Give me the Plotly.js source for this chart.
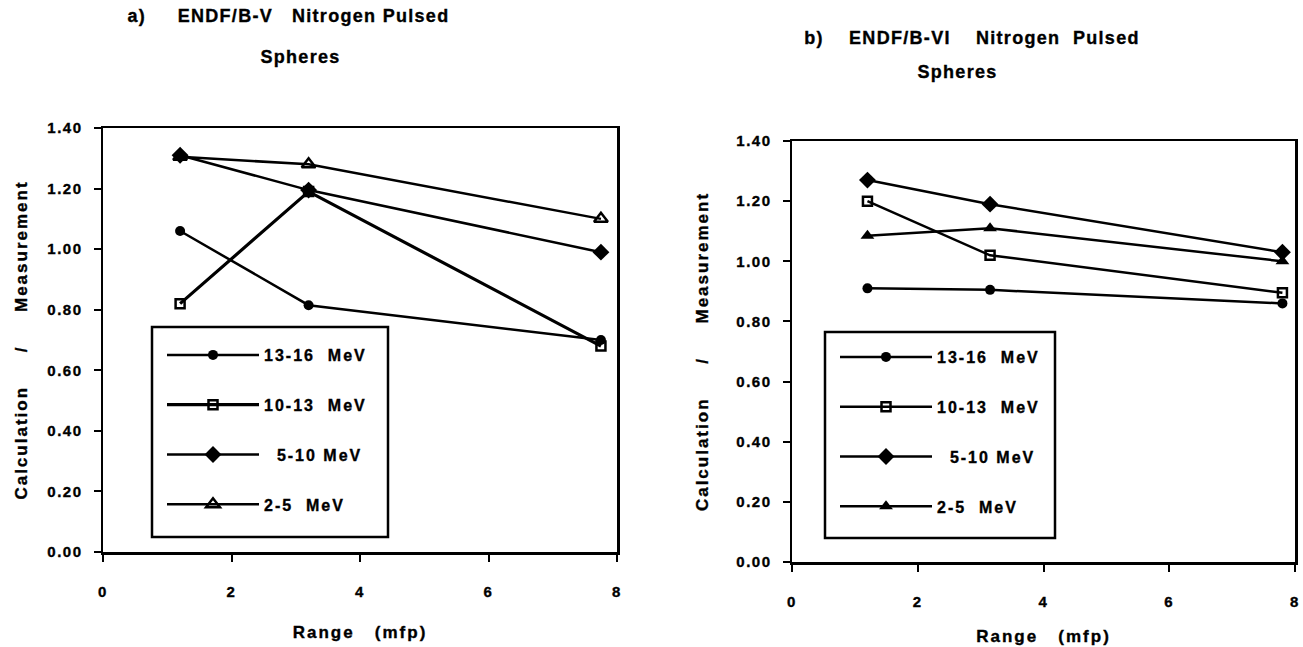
<!DOCTYPE html>
<html>
<head>
<meta charset="utf-8">
<script src="https://cdn.plot.ly/plotly-3.0.1.min.js"></script>
<style>
html,body{margin:0;padding:0;background:#fff;}
#chart{width:1303px;height:647px;}
text{letter-spacing:2px;}
#chart text{stroke:#000;stroke-width:0.35px;}
#chart .xtick text,#chart .ytick text,#chart .x2tick text,#chart .y2tick text{letter-spacing:1.5px;}
#chart .annotation-text{letter-spacing:1.3px;}
</style>
</head>
<body>
<div id="chart"></div>
<script>
// ---- data ----
var seriesNames = ["13-16\u00A0\u00A0MeV", "10-13\u00A0\u00A0MeV", "\u00A0\u00A05-10\u00A0MeV", "2-5\u00A0\u00A0MeV"];
var rangeA = [1.2, 3.2, 7.75];
var rangeB = [1.2, 3.15, 7.8];
// Panel a) ENDF/B-V
var a_13_16 = [1.06, 0.815, 0.70];
var a_10_13 = [0.82, 1.19, 0.68];
var a_5_10  = [1.31, 1.195, 0.99];
var a_2_5   = [1.305, 1.28, 1.10];
// Panel b) ENDF/B-VI
var b_13_16 = [0.91, 0.905, 0.86];
var b_10_13 = [1.20, 1.02, 0.895];
var b_5_10  = [1.27, 1.19, 1.03];
var b_2_5   = [1.085, 1.11, 1.00];
var xTicks = [0, 2, 4, 6, 8];
var yTicks = [0, 0.2, 0.4, 0.6, 0.8, 1.0, 1.2, 1.4];

var FONT = "Liberation Sans, Arial, Helvetica, sans-serif";
var W = 1303, H = 647;
function px(x) { return x / W; }
function py(y) { return 1 - y / H; }

var markerA = [
  {symbol: "circle", size: 10, color: "#000"},
  {symbol: "square-open", size: 9, color: "#000", line: {width: 2.5, color: "#000"}},
  {symbol: "diamond", size: 13, color: "#000"},
  {symbol: "triangle-up-open", size: 12, color: "#000", line: {width: 2.5, color: "#000"}}
];
var markerB = [
  {symbol: "circle", size: 10, color: "#000"},
  {symbol: "square-open", size: 9, color: "#000", line: {width: 2.5, color: "#000"}},
  {symbol: "diamond", size: 13, color: "#000"},
  {symbol: "triangle-up", size: 12, color: "#000"}
];
var lineWA = [2.5, 3.2, 2.5, 2.5];
var dataA = [a_13_16, a_10_13, a_5_10, a_2_5];
var dataB = [b_13_16, b_10_13, b_5_10, b_2_5];

var traces = [];
dataA.forEach(function (ys, i) {
  traces.push({x: rangeA, y: ys, xaxis: "x", yaxis: "y", type: "scatter", mode: "lines+markers",
    name: seriesNames[i], legend: "legend", legendgroup: "a" + i,
    line: {color: "#000", width: lineWA[i]}, marker: markerA[i], cliponaxis: false});
});
dataB.forEach(function (ys, i) {
  traces.push({x: rangeB, y: ys, xaxis: "x2", yaxis: "y2", type: "scatter", mode: "lines+markers",
    name: seriesNames[i], legend: "legend2", legendgroup: "b" + i,
    line: {color: "#000", width: 2.5}, marker: markerB[i], cliponaxis: false});
});

var tickFont = {family: FONT, size: 15, color: "#000", weight: "bold"};
var titleFont = {family: FONT, size: 17, color: "#000", weight: "bold"};
function xAxis(domain, anchor, standoff) {
  return {domain: domain, anchor: anchor, range: [0, 8], tickvals: xTicks, ticktext: xTicks.map(String),
    showgrid: false, zeroline: false, showline: true, linewidth: 2.5, linecolor: "#000", mirror: true,
    ticks: "outside", ticklen: 7, tickwidth: 2, tickcolor: "#000", ticklabelstandoff: 17,
    tickfont: tickFont,
    title: {text: "Range\u00A0\u00A0\u00A0(mfp)", standoff: standoff, font: titleFont}};
}
function yAxis(domain, anchor, standoff) {
  return {domain: domain, anchor: anchor, range: [0, 1.4], tickvals: yTicks, ticktext: yTicks.map(function (v) { return v.toFixed(2); }),
    showgrid: false, zeroline: false, showline: true, linewidth: 2.5, linecolor: "#000", mirror: true,
    ticks: "outside", ticklen: 7, tickwidth: 2, tickcolor: "#000", ticklabelstandoff: 8,
    tickfont: tickFont,
    title: {text: "Calculation\u00A0\u00A0\u00A0\u00A0\u00A0/\u00A0\u00A0\u00A0\u00A0\u00A0Measurement", standoff: standoff, font: titleFont}};
}

var legendBase = {
  bgcolor: "rgba(0,0,0,0)", borderwidth: 0, xanchor: "left", yanchor: "top",
  font: {family: FONT, size: 16, color: "#000", weight: "bold"}, tracegroupgap: 26, itemwidth: 92, itemclick: false
};
var legA = Object.assign({}, legendBase, {x: px(162), y: py(338)});
var legB = Object.assign({}, legendBase, {x: px(835), y: py(340)});

function titleAnn(text, cx, cy) {
  return {text: text, xref: "paper", yref: "paper", x: px(cx), y: py(cy), xanchor: "center", yanchor: "middle",
    showarrow: false, font: {family: FONT, size: 18, color: "#000", weight: "bold"}};
}

var layout = {
  width: W, height: H, margin: {l: 0, r: 0, t: 0, b: 0},
  paper_bgcolor: "#fff", plot_bgcolor: "#fff", showlegend: true,
  xaxis: xAxis([px(103), px(617)], "y", 28),
  yaxis: yAxis([py(552), py(128)], "x", 14),
  xaxis2: xAxis([px(792), px(1295)], "y2", 22),
  yaxis2: yAxis([py(562), py(141)], "x2", 22),
  legend: legA, legend2: legB,
  shapes: [
    {type: "rect", xref: "paper", yref: "paper", x0: px(152), x1: px(388), y0: py(537), y1: py(327),
      line: {color: "#000", width: 2.5}, fillcolor: "rgba(0,0,0,0)"},
    {type: "rect", xref: "paper", yref: "paper", x0: px(825), x1: px(1055), y0: py(538), y1: py(332),
      line: {color: "#000", width: 2.5}, fillcolor: "rgba(0,0,0,0)"}
  ],
  annotations: [
    titleAnn("a)\u00A0\u00A0\u00A0\u00A0\u00A0ENDF/B-V\u00A0\u00A0\u00A0Nitrogen\u00A0Pulsed", 288, 16),
    titleAnn("Spheres", 300, 57),
    titleAnn("b)\u00A0\u00A0\u00A0\u00A0ENDF/B-VI\u00A0\u00A0\u00A0\u00A0Nitrogen\u00A0\u00A0Pulsed", 972, 38),
    titleAnn("Spheres", 957, 72)
  ]
};

Plotly.newPlot("chart", traces, layout, {staticPlot: true, displayModeBar: false});
</script>
</body>
</html>
